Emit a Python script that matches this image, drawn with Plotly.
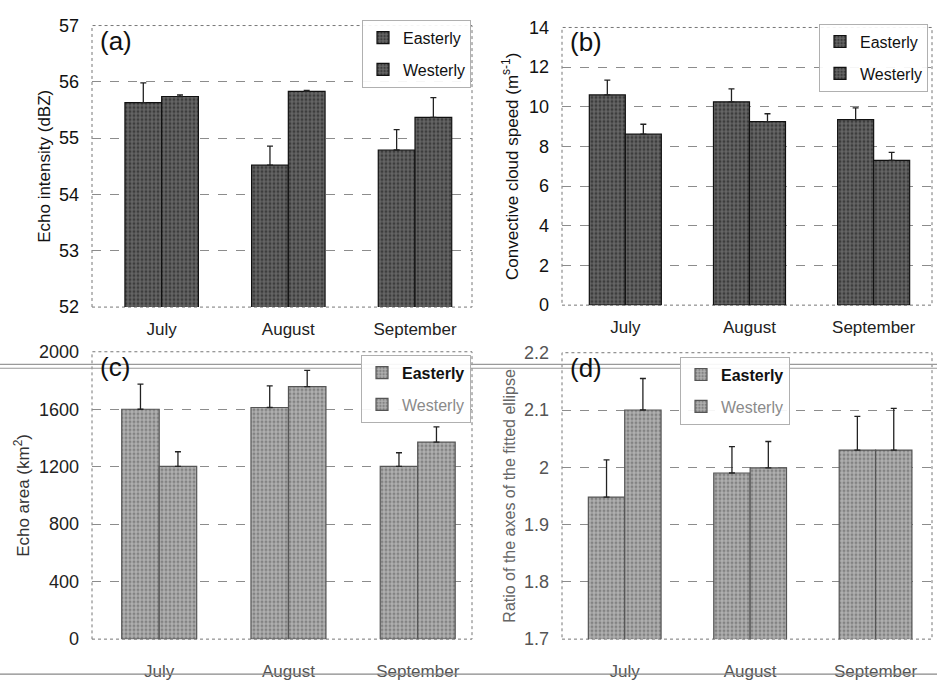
import plotly.graph_objects as go

months = ["July", "August", "September"]

# (a) echo intensity, dBZ
intensity_east = [55.63, 54.52, 54.79]
intensity_east_err = [0.35, 0.34, 0.36]
intensity_west = [55.74, 55.83, 55.37]
intensity_west_err = [0.03, 0.02, 0.35]

# (b) convective cloud speed
speed_east = [10.6, 10.25, 9.35]
speed_east_err = [0.75, 0.65, 0.6]
speed_west = [8.62, 9.25, 7.3]
speed_west_err = [0.5, 0.4, 0.4]

# (c) echo area, km2
area_east = [1600, 1612, 1202]
area_east_err = [175, 150, 95]
area_west = [1202, 1757, 1371]
area_west_err = [102, 113, 106]

# (d) ratio of the axes of the fitted ellipse
ratio_east = [1.948, 1.990, 2.030]
ratio_east_err = [0.065, 0.046, 0.059]
ratio_west = [2.100, 1.999, 2.030]
ratio_west_err = [0.055, 0.046, 0.073]

ticks_a = [52, 53, 54, 55, 56, 57]
ticks_b = [0, 2, 4, 6, 8, 10, 12, 14]
ticks_c = [0, 400, 800, 1200, 1600, 2000]
ticks_d = [1.7, 1.8, 1.9, 2.0, 2.1, 2.2]
ticktext_d = ["1.7", "1.8", "1.9", "2", "2.1", "2.2"]

FONT = "Liberation Sans, Arial, sans-serif"

fig = go.Figure()

panels = [
    dict(ax="", east=intensity_east, ee=intensity_east_err, west=intensity_west, we=intensity_west_err,
         bg="#666666", fg="#141414", edge="#111111", legend="legend",
         names=["Easterly", "Westerly"]),
    dict(ax="2", east=speed_east, ee=speed_east_err, west=speed_west, we=speed_west_err,
         bg="#666666", fg="#141414", edge="#111111", legend="legend2",
         names=["Easterly", "Westerly"]),
    dict(ax="3", east=area_east, ee=area_east_err, west=area_west, we=area_west_err,
         bg="#b0b0b0", fg="#555555", edge="#555555", legend="legend3",
         names=["<b>Easterly</b>", "<span style='color:#8a8a8a'>Westerly</span>"]),
    dict(ax="4", east=ratio_east, ee=ratio_east_err, west=ratio_west, we=ratio_west_err,
         bg="#b0b0b0", fg="#555555", edge="#555555", legend="legend4",
         names=["<b>Easterly</b>", "<span style='color:#8a8a8a'>Westerly</span>"]),
]

for p in panels:
    for k, (vals, errs) in enumerate([(p["east"], p["ee"]), (p["west"], p["we"])]):
        fig.add_trace(go.Bar(
            x=months, y=vals, name=p["names"][k], legendgroup=f"g{p['ax']}{k}",
            xaxis="x" + p["ax"], yaxis="y" + p["ax"], legend=p["legend"],
            marker=dict(color=p["bg"], line=dict(color=p["edge"], width=1.2),
                        pattern=dict(shape=".", fgcolor=p["fg"], bgcolor=p["bg"],
                                     size=4, solidity=0.45)),
            error_y=dict(type="data", symmetric=False, array=errs,
                         arrayminus=[0] * len(errs), color="#222222",
                         thickness=1.3, width=3),
        ))

def ygrid(color="#111", size=18):
    return dict(showgrid=True, gridcolor="#8c8c8c", griddash="dash", gridwidth=1,
                zeroline=False, showline=False, ticks="", ticklabelstandoff=12,
                tickfont=dict(family=FONT, size=size, color=color))

def xaxis(color="#222", standoff=10):
    return dict(showgrid=False, zeroline=False, showline=False, ticks="",
                ticklabelstandoff=standoff,
                tickfont=dict(family=FONT, size=17, color=color))

H = 687.0
W = 937.0

def dom_x(a, b):
    return [a / W, b / W]

def dom_y(top, bottom):
    return [1 - bottom / H, 1 - top / H]

legend_style = dict(bgcolor="rgba(255,255,255,0.92)", bordercolor="#b0b0b0", borderwidth=1,
                    font=dict(family=FONT, size=16, color="#111"),
                    itemwidth=30, tracegroupgap=8, xanchor="right", yanchor="top")

fig.update_layout(
    width=937, height=687,
    margin=dict(l=0, r=0, t=0, b=0),
    paper_bgcolor="white", plot_bgcolor="white",
    barmode="group", bargap=0.42, bargroupgap=0,
    font=dict(family=FONT, color="#111"),
    xaxis=dict(domain=dom_x(92, 472), anchor="y", range=[-0.55, 2.45], **xaxis()),
    yaxis=dict(domain=dom_y(16, 306), anchor="x", range=[52, 57], tickvals=ticks_a,
               title=dict(text="Echo intensity (dBZ)", font=dict(family=FONT, size=17), standoff=4),
               **ygrid()),
    xaxis2=dict(domain=dom_x(562, 932), anchor="y2", range=[-0.51, 2.47], **xaxis()),
    yaxis2=dict(domain=dom_y(18, 304), anchor="x2", range=[0, 14], tickvals=ticks_b,
                title=dict(text="Convective cloud speed (m<sup>s-1</sup>)", font=dict(family=FONT, size=17), standoff=6),
                **ygrid()),
    xaxis3=dict(domain=dom_x(92, 472), anchor="y3", range=[-0.52, 2.42], **xaxis("#555", 20)),
    yaxis3=dict(domain=dom_y(352, 648), anchor="x3", range=[0, 2000], tickvals=ticks_c,
                title=dict(text="Echo area (km<sup>2</sup>)", font=dict(family=FONT, size=17, color="#333"), standoff=4),
                **ygrid("#222")),
    xaxis4=dict(domain=dom_x(562, 932), anchor="y4", range=[-0.5, 2.45], **xaxis("#555", 20)),
    yaxis4=dict(domain=dom_y(353, 648), anchor="x4", range=[1.7, 2.2], tickvals=ticks_d,
                ticktext=ticktext_d,
                title=dict(text="Ratio of the axes of the fitted ellipse", font=dict(family=FONT, size=16, color="#666"), standoff=4),
                **ygrid("#555")),
    legend=dict(x=471 / W, y=1 - 10 / H, **legend_style),
    legend2=dict(x=928 / W, y=1 - 14 / H, **legend_style),
    legend3=dict(x=471 / W, y=1 - 355 / H, **legend_style),
    legend4=dict(x=790 / W, y=1 - 357 / H, **legend_style),
)

# dotted frame around each plotting area
for ax in ["", "2", "3", "4"]:
    fig.add_shape(type="rect", xref=f"x{ax} domain", yref=f"y{ax} domain",
                  x0=0, x1=1, y0=0, y1=1,
                  line=dict(color="#777777", width=1, dash="dot"), layer="below")

# panel letters
for ax, letter in [("", "(a)"), ("2", "(b)"), ("3", "(c)"), ("4", "(d)")]:
    fig.add_annotation(text=letter, xref=f"x{ax} domain", yref=f"y{ax} domain",
                       x=0.015, y=1.0, yshift=2, xanchor="left", yanchor="top", showarrow=False,
                       font=dict(family=FONT, size=26, color="#111"))

# double rule running across the page between the rows
for yy in [365, 369]:
    fig.add_shape(type="line", xref="paper", yref="paper", x0=0, x1=1,
                  y0=1 - yy / H, y1=1 - yy / H, line=dict(color="#999999", width=1.2))
fig.add_shape(type="line", xref="paper", yref="paper", x0=0, x1=1,
              y0=1 - 684 / H, y1=1 - 684 / H, line=dict(color="#888888", width=1.2))

fig.write_html("out.html")
